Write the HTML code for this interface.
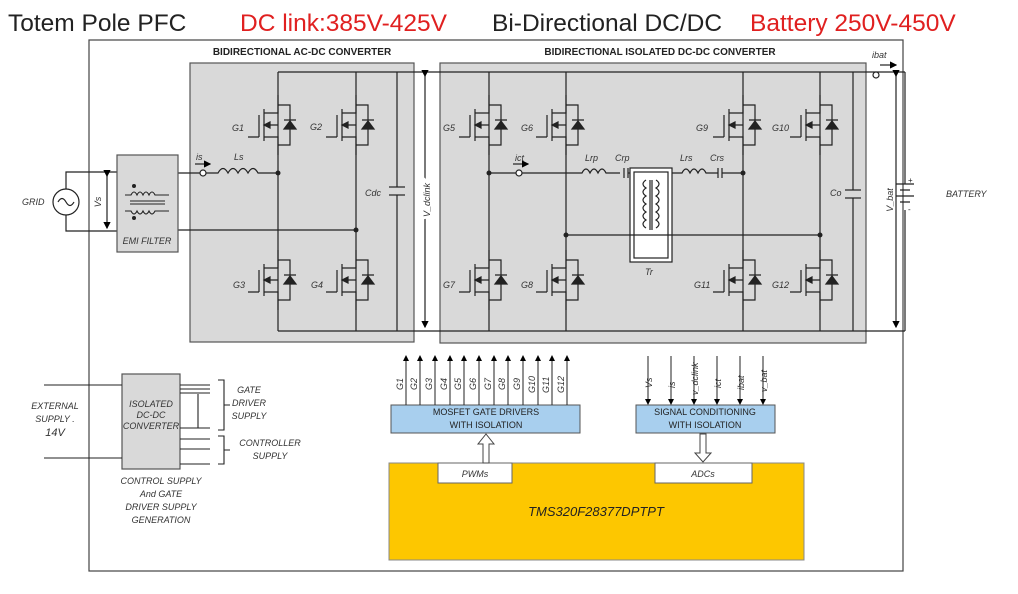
<!DOCTYPE html>
<html><head><meta charset="utf-8"><style>
body{margin:0;background:#fff;width:1018px;height:594px;overflow:hidden}
svg{display:block}
text{font-family:"Liberation Sans",sans-serif}
.t{font-size:24.5px}
.s{font-size:9px;font-style:italic;fill:#333}
.h{font-size:10px;font-weight:bold;fill:#222}
.b{font-size:9px;fill:#222}
</style></head><body>
<svg width="1018" height="594" viewBox="0 0 1018 594">
<defs>
<marker id="ar" markerWidth="6" markerHeight="6" refX="5" refY="3" orient="auto"><path d="M0,0 L6,3 L0,6z" fill="#000"/></marker>
<g id="m" stroke="#222" stroke-width="1.2" fill="none">
<path d="M0,-30 V-12 H-14 M-14,-16 V16 M-19,-10 V12 M-19,12 H-30 M-14,12 H0 V30 M-14,0 H0"/>
<path d="M0,-20 H12 V20 H0"/>
<path d="M-14,0 l6,-3 v6z" fill="#222"/>
<path d="M6,4 L12,-4 L18,4z M6,-5 H18" fill="#222"/>
</g>
</defs>
<text x="8" y="31" class="t" fill="#222">Totem Pole PFC</text>
<text x="240" y="31" class="t" fill="#e02020">DC link:385V-425V</text>
<text x="492" y="31" class="t" fill="#222">Bi-Directional DC/DC</text>
<text x="750" y="31" class="t" fill="#e02020">Battery 250V-450V</text>

<rect x="89" y="40" width="814" height="531" fill="none" stroke="#444" stroke-width="1.2"/>
<rect x="190" y="63" width="224" height="279" fill="#d9d9d9" stroke="#555" stroke-width="1.2"/>
<rect x="440" y="63" width="426" height="280" fill="#d9d9d9" stroke="#555" stroke-width="1.2"/>
<text x="302" y="55" class="h" text-anchor="middle">BIDIRECTIONAL AC-DC CONVERTER</text>
<text x="660" y="55" class="h" text-anchor="middle">BIDIRECTIONAL ISOLATED DC-DC CONVERTER</text>

<g stroke="#222" stroke-width="1.2" fill="none">
<line x1="278" y1="72" x2="905" y2="72"/>
<line x1="278" y1="331" x2="905" y2="331"/>
<line x1="278" y1="72" x2="278" y2="331"/>
<line x1="356" y1="72" x2="356" y2="331"/>
<line x1="397" y1="72" x2="397" y2="187"/><line x1="397" y1="195" x2="397" y2="331"/>
<line x1="389" y1="187" x2="405" y2="187"/><line x1="389" y1="195" x2="405" y2="195"/>
<line x1="489" y1="72" x2="489" y2="331"/>
<line x1="566" y1="72" x2="566" y2="331"/>
<line x1="743" y1="72" x2="743" y2="331"/>
<line x1="820" y1="72" x2="820" y2="331"/>
<line x1="853" y1="72" x2="853" y2="190"/><line x1="853" y1="198" x2="853" y2="331"/>
<line x1="845" y1="190" x2="861" y2="190"/><line x1="845" y1="198" x2="861" y2="198"/>
<circle cx="66" cy="202" r="13"/>
<path d="M58,202 q4,-7 8,0 t8,0"/>
<path d="M66,189 V172 H117 M66,215 V231 H117"/>
<line x1="107" y1="176" x2="107" y2="228" marker-start="url(#ar)" marker-end="url(#ar)"/>
<path d="M178,173 H200 M206,173 H218 q5,-9 10,0 q5,-9 10,0 q5,-9 10,0 q5,-9 10,0 H278"/>
<circle cx="203" cy="173" r="3" fill="#fff"/>
<line x1="195" y1="164" x2="210" y2="164" marker-end="url(#ar)"/>
<path d="M178,230 H356"/>
<line x1="425" y1="76" x2="425" y2="327" marker-start="url(#ar)" marker-end="url(#ar)"/>
<path d="M489,173 H516 M522,173 H582 q4,-8 8,0 q4,-8 8,0 q4,-8 8,0 H620 M624,168 V178 M628,168 V178 M628,173 H640"/>
<circle cx="519" cy="173" r="3" fill="#fff"/>
<line x1="513" y1="164" x2="528" y2="164" marker-end="url(#ar)"/>
<rect x="630" y="168" width="42" height="94" fill="#fff"/>
<rect x="634" y="172" width="34" height="86"/>
<path d="M646,180 q-6,4 0,8 q-6,4 0,8 q-6,4 0,8 q-6,4 0,8 q-6,4 0,8 q-6,4 0,8 M656,180 q6,4 0,8 q6,4 0,8 q6,4 0,8 q6,4 0,8 q6,4 0,8 q6,4 0,8 M650,180 V230 M652,180 V230"/>
<path d="M672,173 H682 q4,-8 8,0 q4,-8 8,0 q4,-8 8,0 H718 M718,168 V178 M722,168 V178 M722,173 H743"/>
<path d="M566,235 H820"/>
<line x1="896" y1="76" x2="896" y2="327" marker-start="url(#ar)" marker-end="url(#ar)"/>
<circle cx="876" cy="75" r="3" fill="#fff"/>
<line x1="880" y1="65" x2="896" y2="65" marker-end="url(#ar)"/>
<path d="M905,72 V184 M905,210 V331 M896,184 H914 M900,190 H910 M896,196 H914 M900,202 H910"/>
</g>
<g fill="#222">
<circle cx="278" cy="173" r="2.5"/><circle cx="356" cy="230" r="2.5"/>
<circle cx="489" cy="173" r="2.5"/><circle cx="566" cy="235" r="2.5"/>
<circle cx="743" cy="173" r="2.5"/><circle cx="820" cy="235" r="2.5"/>
</g>
<rect x="117" y="155" width="61" height="97" fill="#d9d9d9" stroke="#555" stroke-width="1.2"/>
<g stroke="#222" fill="none" stroke-width="1.1">
<path d="M125,195 H131 q3,-6 6,0 q3,-6 6,0 q3,-6 6,0 q3,-6 6,0 H169 M125,211 H131 q3,6 6,0 q3,6 6,0 q3,6 6,0 q3,6 6,0 H169 M130,201 H165 M130,204 H165"/>
</g>
<circle cx="134" cy="186" r="2" fill="#222"/><circle cx="134" cy="218" r="2" fill="#222"/>
<text x="147" y="244" class="s" text-anchor="middle">EMI FILTER</text>

<use href="#m" x="278" y="125"/><use href="#m" x="356" y="125"/>
<use href="#m" x="278" y="280"/><use href="#m" x="356" y="280"/>
<use href="#m" x="489" y="125"/><use href="#m" x="566" y="125"/>
<use href="#m" x="489" y="280"/><use href="#m" x="566" y="280"/>
<use href="#m" x="743" y="125"/><use href="#m" x="820" y="125"/>
<use href="#m" x="743" y="280"/><use href="#m" x="820" y="280"/>

<g class="s">
<text x="232" y="131">G1</text><text x="310" y="130">G2</text>
<text x="233" y="288">G3</text><text x="311" y="288">G4</text>
<text x="443" y="131">G5</text><text x="521" y="131">G6</text>
<text x="443" y="288">G7</text><text x="521" y="288">G8</text>
<text x="696" y="131">G9</text><text x="772" y="131">G10</text>
<text x="694" y="288">G11</text><text x="772" y="288">G12</text>
<text x="196" y="160">is</text><text x="234" y="160">Ls</text>
<text x="365" y="196">Cdc</text>
<text x="515" y="161">ict</text><text x="585" y="161">Lrp</text><text x="615" y="161">Crp</text>
<text x="680" y="161">Lrs</text><text x="710" y="161">Crs</text>
<text x="645" y="275">Tr</text><text x="830" y="196">Co</text>
<text x="872" y="58">ibat</text>
<text x="946" y="197">BATTERY</text>
<text x="22" y="205">GRID</text>
<text transform="translate(101,202) rotate(-90)" text-anchor="middle">Vs</text>
<text transform="translate(430,200) rotate(-90)" text-anchor="middle" fill="#fff" stroke="#fff" stroke-width="6">V_dclink</text>
<text transform="translate(430,200) rotate(-90)" text-anchor="middle">V_dclink</text>
<text transform="translate(893,200) rotate(-90)" text-anchor="middle">V_bat</text>
</g>
<text x="908" y="183" font-size="8" fill="#222">+</text><text x="908" y="212" font-size="8" fill="#222">-</text>

<rect x="122" y="374" width="58" height="95" fill="#d9d9d9" stroke="#555" stroke-width="1.2"/>
<text class="s" font-size="8" text-anchor="middle"><tspan x="151" y="407">ISOLATED</tspan><tspan x="151" y="418">DC-DC</tspan><tspan x="151" y="429">CONVERTER</tspan></text>
<g stroke="#222" stroke-width="1.1" fill="none">
<path d="M44,385 H122 M44,458 H122"/>
<path d="M180,385 H210 M180,389 H210 M180,393 H210 M180,428 H210 M198,394 V428" />
<path d="M180,439 H210 M180,449 H210 M180,464 H210"/>
<path d="M218,380 H224 V430 H218 M224,405 H230 M218,436 H224 V464 H218 M224,450 H230"/>
</g>
<g class="s" font-size="10" text-anchor="middle">
<text x="249" y="393">GATE</text><text x="249" y="406">DRIVER</text><text x="249" y="419">SUPPLY</text>
<text x="270" y="446">CONTROLLER</text><text x="270" y="459">SUPPLY</text>
<text x="55" y="409">EXTERNAL</text><text x="55" y="422">SUPPLY .</text><text x="55" y="436" font-size="11">14V</text>
<text x="161" y="484">CONTROL SUPPLY</text><text x="161" y="497">And GATE</text><text x="161" y="510">DRIVER SUPPLY</text><text x="161" y="523">GENERATION</text>
</g>

<rect x="389" y="463" width="415" height="97" fill="#fdc700" stroke="#888"/>
<rect x="438" y="463" width="74" height="20" fill="#fff" stroke="#666"/>
<rect x="655" y="463" width="97" height="20" fill="#fff" stroke="#666"/>
<text x="475" y="477" class="s" text-anchor="middle">PWMs</text>
<text x="703" y="477" class="s" text-anchor="middle">ADCs</text>
<text x="596" y="516" font-size="13" font-style="italic" fill="#222" text-anchor="middle">TMS320F28377DPTPT</text>

<rect x="391" y="405" width="189" height="28" fill="#a8cfee" stroke="#555"/>
<rect x="636" y="405" width="139" height="28" fill="#a8cfee" stroke="#555"/>
<text class="b" text-anchor="middle"><tspan x="486" y="415">MOSFET GATE DRIVERS</tspan><tspan x="486" y="428">WITH ISOLATION</tspan></text>
<text class="b" text-anchor="middle"><tspan x="705" y="415">SIGNAL CONDITIONING</tspan><tspan x="705" y="428">WITH ISOLATION</tspan></text>
<path d="M483,463 V444 H478 L486,434 L494,444 H489 V463z" fill="#fff" stroke="#444"/>
<path d="M700,434 V453 H695 L703,462 L711,453 H706 V434z" fill="#fff" stroke="#444"/>

<g stroke="#222" stroke-width="1">
<line x1="406" y1="405" x2="406" y2="356" marker-end="url(#ar)"/>
<line x1="420" y1="405" x2="420" y2="356" marker-end="url(#ar)"/>
<line x1="435" y1="405" x2="435" y2="356" marker-end="url(#ar)"/>
<line x1="450" y1="405" x2="450" y2="356" marker-end="url(#ar)"/>
<line x1="464" y1="405" x2="464" y2="356" marker-end="url(#ar)"/>
<line x1="479" y1="405" x2="479" y2="356" marker-end="url(#ar)"/>
<line x1="494" y1="405" x2="494" y2="356" marker-end="url(#ar)"/>
<line x1="508" y1="405" x2="508" y2="356" marker-end="url(#ar)"/>
<line x1="523" y1="405" x2="523" y2="356" marker-end="url(#ar)"/>
<line x1="538" y1="405" x2="538" y2="356" marker-end="url(#ar)"/>
<line x1="552" y1="405" x2="552" y2="356" marker-end="url(#ar)"/>
<line x1="567" y1="405" x2="567" y2="356" marker-end="url(#ar)"/>
<line x1="648" y1="356" x2="648" y2="404" marker-end="url(#ar)"/>
<line x1="671" y1="356" x2="671" y2="404" marker-end="url(#ar)"/>
<line x1="694" y1="356" x2="694" y2="404" marker-end="url(#ar)"/>
<line x1="717" y1="356" x2="717" y2="404" marker-end="url(#ar)"/>
<line x1="740" y1="356" x2="740" y2="404" marker-end="url(#ar)"/>
<line x1="763" y1="356" x2="763" y2="404" marker-end="url(#ar)"/>
</g>
<g class="s" font-size="8">
<text transform="translate(403,390) rotate(-90)">G1</text><text transform="translate(417,390) rotate(-90)">G2</text>
<text transform="translate(432,390) rotate(-90)">G3</text><text transform="translate(447,390) rotate(-90)">G4</text>
<text transform="translate(461,390) rotate(-90)">G5</text><text transform="translate(476,390) rotate(-90)">G6</text>
<text transform="translate(491,390) rotate(-90)">G7</text><text transform="translate(505,390) rotate(-90)">G8</text>
<text transform="translate(520,390) rotate(-90)">G9</text><text transform="translate(535,393) rotate(-90)">G10</text>
<text transform="translate(549,393) rotate(-90)">G11</text><text transform="translate(564,393) rotate(-90)">G12</text>
<text transform="translate(652,388) rotate(-90)">Vs</text><text transform="translate(675,388) rotate(-90)">is</text>
<text transform="translate(698,395) rotate(-90)">v_dclink</text><text transform="translate(721,388) rotate(-90)">ict</text>
<text transform="translate(744,390) rotate(-90)">ibat</text><text transform="translate(767,392) rotate(-90)">v_bat</text>
</g>
</svg>
</body></html>
